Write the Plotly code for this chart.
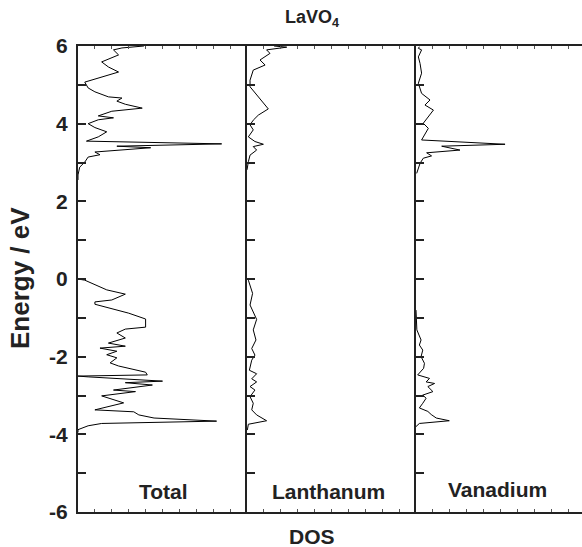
import plotly.graph_objects as go

# ---------------- data (energy in eV, DOS in arbitrary units) ----------------
total_E_up = [6.0, 5.95, 5.9, 5.77, 5.59, 5.46, 5.33, 5.07, 4.92, 4.82, 4.69, 4.66, 4.58, 4.50,
              4.40, 4.32, 4.20, 4.15, 4.10, 4.00, 3.90, 3.79, 3.66, 3.55, 3.48, 3.42, 3.38,
              3.27, 3.20, 3.14, 3.01, 2.88, 2.68, 2.55]
total_D_up = [3.9, 2.6, 2.1, 2.4, 1.4, 1.8, 2.4, 0.4, 0.6, 1.0, 1.8, 2.6, 2.3, 2.8,
              3.8, 2.0, 1.2, 2.1, 1.2, 0.6, 1.0, 1.7, 1.2, 0.5, 8.5, 2.3, 4.3,
              1.0, 1.3, 0.6, 0.4, 0.1, 0.0, 0.0]
total_E_lo = [0.0, -0.03, -0.28, -0.39, -0.54, -0.59, -0.65, -0.80, -0.88, -1.03, -1.24, -1.29,
              -1.39, -1.52, -1.65, -1.73, -1.78, -1.86, -1.95, -2.03, -2.16, -2.24, -2.40,
              -2.47, -2.50, -2.52, -2.63, -2.67, -2.73, -2.86, -2.90, -3.01, -3.19, -3.37,
              -3.42, -3.50, -3.58, -3.66, -3.72, -3.78, -3.88, -3.95]
total_D_lo = [0.0, 0.4, 1.7, 2.8, 2.0, 1.0, 1.0, 2.3, 3.0, 4.0, 4.0, 2.8,
              2.3, 2.8, 1.8, 2.8, 1.3, 2.3, 1.7, 2.3, 1.9, 2.4, 4.0,
              4.1, 0.0, 0.6, 5.0, 2.8, 4.4, 2.1, 3.4, 1.4, 2.7, 1.0,
              3.3, 3.6, 4.5, 8.2, 1.4, 0.6, 0.0, 0.0]

la_E_up = [6.0, 5.97, 5.90, 5.81, 5.64, 5.51, 5.38, 5.12, 4.95, 4.74, 4.57, 4.38, 4.22, 4.09,
           3.97, 3.84, 3.66, 3.54, 3.47, 3.41, 3.32, 3.19, 3.02, 2.81]
la_D_up = [1.6, 2.35, 1.16, 1.36, 0.77, 1.07, 0.37, 0.18, 0.18, 0.57, 0.87, 1.26, 0.67, 0.37,
           0.18, 0.37, 0.08, 0.47, 0.97, 0.37, 0.57, 0.18, 0.08, 0.0]
la_E_lo = [-0.03, -0.37, -0.67, -1.04, -1.31, -1.57, -1.79, -1.96, -2.09, -2.35, -2.44, -2.57,
           -2.65, -2.77, -2.86, -3.03, -3.20, -3.37, -3.50, -3.65, -3.74, -3.89]
la_D_lo = [0.08, 0.33, 0.18, 0.57, 0.37, 0.53, 0.28, 0.47, 0.28, 0.14, 0.57, 0.28,
           0.57, 0.18, 0.47, 0.18, 0.37, 0.28, 0.57, 1.16, 0.08, 0.02]

v_E_up = [5.98, 5.94, 5.90, 5.72, 5.55, 5.30, 5.04, 4.78, 4.61, 4.48, 4.35, 4.14, 4.01, 3.88,
          3.58, 3.47, 3.42, 3.32, 3.25, 3.17, 3.11, 2.98, 2.72]
v_D_up = [0.2, 0.14, 0.33, 0.14, 0.24, 0.33, 0.14, 0.33, 0.83, 0.53, 1.03, 0.63, 0.43, 0.73,
          0.33, 5.27, 1.52, 2.6, 0.63, 0.92, 0.43, 0.24, 0.04]
v_E_lo = [-0.80, -1.31, -1.57, -1.70, -1.83, -2.00, -2.17, -2.30, -2.47, -2.56, -2.65, -2.69,
          -2.77, -2.90, -2.99, -3.07, -3.20, -3.32, -3.41, -3.49, -3.58, -3.65, -3.72, -3.80]
v_D_lo = [0.0, 0.05, 0.3, 0.2, 0.4, 0.3, 0.5, 0.45, 0.1, 0.8, 0.6, 1.1,
          0.7, 1.0, 0.4, 0.6, 0.4, 0.2, 0.7, 0.9, 1.2, 1.97, 0.2, 0.0]

panel_names = ["Total", "Lanthanum", "Vanadium"]
y_ticks = [6, 4, 2, 0, -2, -4, -6]

# ---------------- layout geometry ----------------
W, H = 582, 547
x_edges = [78, 247, 416, 582]
y_top, y_bot = 46, 512
full_w = 169.0
FONT = "Liberation Sans, Arial, sans-serif"
INK = "#222222"

fig = go.Figure()

series = [
    (total_E_up, total_D_up, total_E_lo, total_D_lo),
    (la_E_up, la_D_up, la_E_lo, la_D_lo),
    (v_E_up, v_D_up, v_E_lo, v_D_lo),
]

for i, (eu, du, el, dl) in enumerate(series):
    xa = "x" if i == 0 else f"x{i+1}"
    ya = "y" if i == 0 else f"y{i+1}"
    fig.add_trace(go.Scatter(
        x=du + [None] + dl, y=eu + [None] + el, mode="lines",
        line=dict(color="black", width=1), xaxis=xa, yaxis=ya,
        showlegend=False, hoverinfo="skip", connectgaps=False))

for i in range(3):
    x0, x1 = x_edges[i], x_edges[i + 1]
    w = x1 - x0
    xr = [0, 10 * w / full_w]
    xkey = "xaxis" if i == 0 else f"xaxis{i+1}"
    ykey = "yaxis" if i == 0 else f"yaxis{i+1}"
    fig.layout[xkey] = dict(
        domain=[x0 / W, x1 / W], range=xr, anchor="y" if i == 0 else f"y{i+1}",
        showline=True, mirror="ticks", linecolor=INK, linewidth=2,
        ticks="inside", ticklen=3, tickwidth=1, tickcolor="#555", dtick=1, tick0=0,
        showticklabels=False, showgrid=False, zeroline=False, fixedrange=True,
        automargin=False)
    fig.layout[ykey] = dict(
        domain=[1 - y_bot / H, 1 - y_top / H], range=[-6, 6],
        anchor="x" if i == 0 else f"x{i+1}",
        showline=True, mirror=False, linecolor=INK, linewidth=2,
        ticks="inside", ticklen=8, tickwidth=1.5, tickcolor=INK,
        tickmode="array", tickvals=y_ticks, ticktext=[str(v) for v in y_ticks],
        minor=dict(dtick=1, tick0=0, ticks="inside", ticklen=8, tickwidth=1.5,
                   tickcolor=INK, showgrid=False),
        showticklabels=(i == 0), ticklabelstandoff=4,
        tickfont=dict(family=FONT, size=21, color=INK, weight="bold"),
        showgrid=False, zeroline=False, fixedrange=True, automargin=False)

annotations = []
label_pos = [(163, 492), (328, 492), (497, 489)]
for name, (px, py) in zip(panel_names, label_pos):
    annotations.append(dict(text=name, x=px / W, y=1 - py / H, xref="paper", yref="paper",
                            showarrow=False, xanchor="center", yanchor="middle",
                            font=dict(family=FONT, size=21, color=INK, weight="bold")))
annotations.append(dict(text="LaVO<sub>4</sub>", x=312 / W, y=1 - 19 / H, xref="paper", yref="paper",
                        showarrow=False, xanchor="center", yanchor="middle",
                        font=dict(family=FONT, size=18, color=INK, weight="bold")))
annotations.append(dict(text="DOS", x=312 / W, y=1 - 536 / H, xref="paper", yref="paper",
                        showarrow=False, xanchor="center", yanchor="middle",
                        font=dict(family=FONT, size=21, color=INK, weight="bold")))
annotations.append(dict(text="Energy / eV", x=20 / W, y=1 - 278 / H, xref="paper", yref="paper",
                        showarrow=False, xanchor="center", yanchor="middle", textangle=-90,
                        font=dict(family=FONT, size=26, color=INK, weight="bold")))

fig.update_layout(template="none", width=W, height=H, margin=dict(l=0, r=0, t=0, b=0, autoexpand=False),
                  paper_bgcolor="white", plot_bgcolor="white", annotations=annotations)

fig.write_html("out.html", config={"displayModeBar": False},
               post_script="document.body.style.margin='0';document.body.style.overflow='hidden';")
